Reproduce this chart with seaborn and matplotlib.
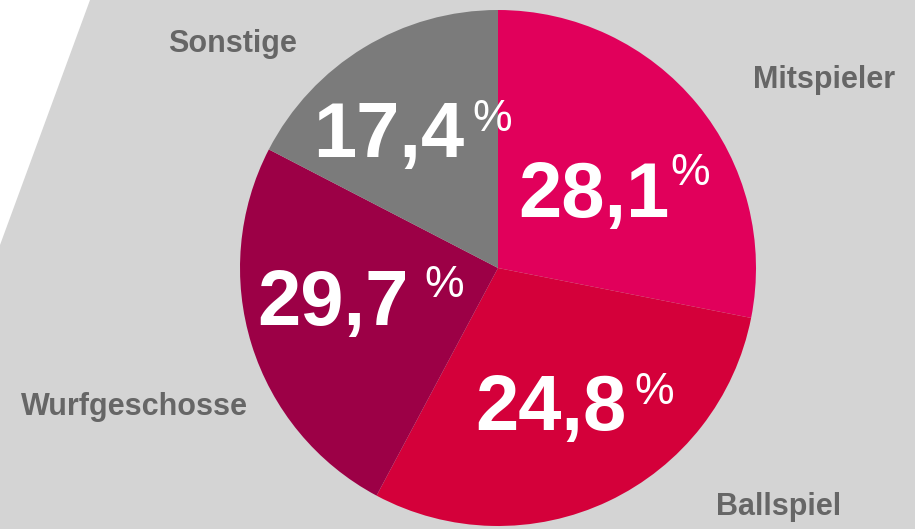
import matplotlib
matplotlib.use("Agg")
import matplotlib.pyplot as plt
import seaborn as sns

# categories, clockwise from 12 o'clock
categories = ["Mitspieler", "Ballspiel", "Wurfgeschosse", "Sonstige"]
# shares printed on the slices (%)
printed_shares = [28.1, 24.8, 29.7, 17.4]
# slice sizes as drawn in the source graphic (Ballspiel / Wurfgeschosse wedges are swapped there)
drawn_shares = [28.1, 29.7, 24.8, 17.4]

slice_colors = ["#E1005B", "#D4003A", "#9C0046", "#7B7B7B"]

W, H = 915, 529


def flip(y):
    return H - y


def main():
    sns.set_theme(style="white")
    plt.rcParams["font.family"] = ["Liberation Sans", "DejaVu Sans"]

    fig = plt.figure(figsize=(W / 100, H / 100), dpi=100)
    fig.patch.set_facecolor("white")
    ax = fig.add_axes([0, 0, 1, 1])

    # grey panel with slanted left edge
    ax.fill([90, W, W, 0, 0], [flip(0), flip(0), flip(H), flip(H), flip(245)],
            color="#D4D4D4", zorder=0, lw=0)

    palette = sns.color_palette(slice_colors)
    ax.pie(drawn_shares, colors=palette, startangle=90, counterclock=False,
           center=(498, flip(268)), radius=258,
           wedgeprops=dict(linewidth=0, zorder=1))

    ax.set_xlim(0, W)
    ax.set_ylim(0, H)
    ax.set_aspect("equal")
    ax.axis("off")

    # value labels: (digit center x, baseline y, % left x, % top y)
    value_pos = [(594, 217, 670, 153), (551, 430, 634, 372),
                 (333, 325, 424, 265), (389, 157, 472, 99)]
    for share, (cx, by, px, py) in zip(printed_shares, value_pos):
        txt = f"{share:.1f}".replace(".", ",")
        ax.text(cx, flip(by), txt, ha="center", va="baseline", color="white",
                fontsize=56, fontweight="bold", zorder=3)
        ax.text(px, flip(py), "%", ha="left", va="top", color="white",
                fontsize=32, fontweight="normal", zorder=3)

    # category labels: (center x, baseline y)
    cat_pos = [(824, 88), (779, 515), (134, 415), (233, 52)]
    for name, (cx, by) in zip(categories, cat_pos):
        ax.text(cx, flip(by), name, ha="center", va="baseline", color="#666666",
                fontsize=22, fontweight="bold", zorder=3)

    fig.savefig("out.png", dpi=100)
    plt.close(fig)


if __name__ == "__main__":
    main()
